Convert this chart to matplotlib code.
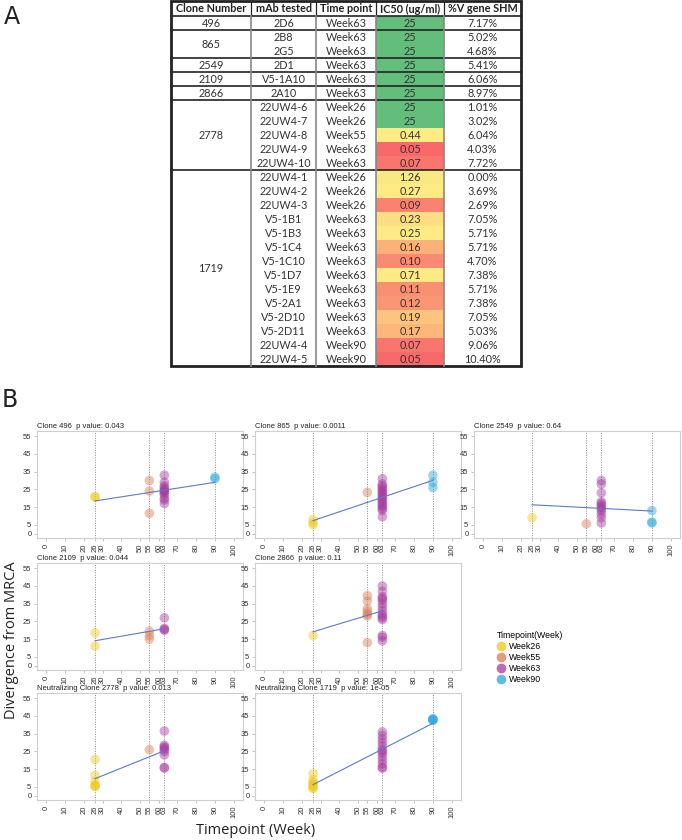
import numpy as np
import matplotlib
matplotlib.use("Agg")
import matplotlib.pyplot as plt
from matplotlib.patches import Rectangle
from matplotlib.lines import Line2D

# ---- panel A table data ----
clone_numbers = ["496", "865", "2549", "2109", "2866", "2778", "1719"]
clone_sizes = [1, 2, 1, 1, 1, 5, 14]
mabs = ["2D6", "2B8", "2G5", "2D1", "V5-1A10", "2A10",
        "22UW4-6", "22UW4-7", "22UW4-8", "22UW4-9", "22UW4-10",
        "22UW4-1", "22UW4-2", "22UW4-3", "V5-1B1", "V5-1B3", "V5-1C4",
        "V5-1C10", "V5-1D7", "V5-1E9", "V5-2A1", "V5-2D10", "V5-2D11",
        "22UW4-4", "22UW4-5"]
time_points = ["Week63"] * 6 + ["Week26", "Week26", "Week55", "Week63", "Week63",
               "Week26", "Week26", "Week26"] + ["Week63"] * 9 + ["Week90", "Week90"]
ic50 = ["25", "25", "25", "25", "25", "25", "25", "25", "0.44", "0.05", "0.07",
        "1.26", "0.27", "0.09", "0.23", "0.25", "0.16", "0.10", "0.71", "0.11",
        "0.12", "0.19", "0.17", "0.07", "0.05"]
shm = ["7.17%", "5.02%", "4.68%", "5.41%", "6.06%", "8.97%", "1.01%", "3.02%",
       "6.04%", "4.03%", "7.72%", "0.00%", "3.69%", "2.69%", "7.05%", "5.71%",
       "5.71%", "4.70%", "7.38%", "5.71%", "7.38%", "7.05%", "5.03%", "9.06%",
       "10.40%"]
headers = ["Clone Number", "mAb tested", "Time point", "IC50 (ug/ml)", "%V gene SHM"]

# ---- panel B data: divergence from MRCA per timepoint (week) ----
week_labels = ["Week26", "Week55", "Week63", "Week90"]
weeks = [26, 55, 63, 90]
week_colors = ["#EDC816", "#DB7B50", "#A63AA0", "#2BA6DB"]

clone_496 = {26: [21, 20.5], 55: [30, 24, 11.5],
             63: [33, 29, 27, 26, 25, 24, 24, 23, 22, 20, 19, 17], 90: [31, 32]}
clone_865 = {26: [8, 6, 5], 55: [23.3],
             63: [31, 28, 27, 26, 25, 24, 23, 22, 21, 20, 19, 18, 17, 16, 15, 14, 13, 9.5],
             90: [33, 29, 26]}
clone_2549 = {26: [9], 55: [5.5],
              63: [30, 28, 23, 18, 17, 16, 15, 14, 13, 11, 9, 6], 90: [13, 6.5, 6]}
clone_2109 = {26: [18.5, 11], 55: [19.5, 17, 15], 63: [27, 21, 20.5, 20]}
clone_2866 = {26: [17], 55: [39.5, 36.5, 32, 30.5, 29, 28, 13],
              63: [45, 42, 39, 38, 37, 35, 33, 31, 29, 28, 27, 26, 17, 16, 14]}
clone_2778 = {26: [20.5, 11.5, 8, 6, 5.5, 5], 55: [26],
              63: [36.5, 28.5, 27.5, 27, 26, 25, 23, 16, 15.5]}
clone_1719 = {26: [12.5, 9, 7.5, 6.5, 5.5, 4.5, 4],
              63: [36, 34, 32, 30, 28, 26, 25, 24, 22, 20, 18, 16, 15.5],
              90: [43.5, 43, 42.5, 43]}

panels = [
    ("Clone 496  p value: 0.043", clone_496),
    ("Clone 865  p value: 0.0011", clone_865),
    ("Clone 2549  p value: 0.64", clone_2549),
    ("Clone 2109  p value: 0.044", clone_2109),
    ("Clone 2866  p value: 0.11", clone_2866),
    None,
    ("Neutralizing Clone 2778  p value: 0.013", clone_2778),
    ("Neutralizing Clone 1719  p value: 1e-05", clone_1719),
]
xticks = [0, 10, 20, 26, 30, 40, 50, 55, 60, 63, 70, 80, 90, 100]
yticks = [0, 5, 15, 25, 35, 45, 55]

W, H = 682, 840
fig = plt.figure(figsize=(W / 100, H / 100), dpi=100)


def ic50_color(v):
    # excel style 3-colour scale: min red, median yellow, max green
    red = np.array([0xF8, 0x69, 0x6B]) / 255
    yel = np.array([0xFF, 0xEB, 0x84]) / 255
    grn = np.array([0x63, 0xBE, 0x7B]) / 255
    vals = [float(s) for s in ic50]
    lo, mid, hi = min(vals), np.median(vals), max(vals)
    if v <= mid:
        t = (v - lo) / (mid - lo)
        return red + (yel - red) * t
    t = (v - mid) / (hi - mid)
    return yel + (grn - yel) * t


# ---- table (panel A) drawn in pixel coordinates ----
ax_t = fig.add_axes([0, 0, 1, 1])
ax_t.set_xlim(0, W)
ax_t.set_ylim(H, 0)
ax_t.axis("off")

col_edges = [171, 251, 316, 376, 444, 521]
top, head_h, row_h = 1, 15, 14.0
body_top = top + head_h
n_rows = len(mabs)
bottom = body_top + n_rows * row_h
tfont = "Lato"
tsize = 7.8

for i, v in enumerate(ic50):
    y0 = body_top + i * row_h
    ax_t.add_patch(Rectangle((col_edges[3], y0), col_edges[4] - col_edges[3], row_h,
                             facecolor=ic50_color(float(v)), edgecolor="none"))

for j, h in enumerate(headers):
    ax_t.text((col_edges[j] + col_edges[j + 1]) / 2, top + head_h / 2 + 0.5, h,
              ha="center", va="center", fontsize=tsize, fontweight="bold",
              family=tfont, color="#222")

for i in range(n_rows):
    yc = body_top + (i + 0.5) * row_h + 0.5
    for j, col in enumerate([mabs, time_points, ic50, shm]):
        ax_t.text((col_edges[j + 1] + col_edges[j + 2]) / 2, yc, col[i],
                  ha="center", va="center", fontsize=tsize, family=tfont, color="#333")

start = 0
for cn, sz in zip(clone_numbers, clone_sizes):
    yc = body_top + (start + sz / 2) * row_h + 0.5
    ax_t.text((col_edges[0] + col_edges[1]) / 2, yc, cn, ha="center", va="center",
              fontsize=tsize, family=tfont, color="#333")
    start += sz
    if start < n_rows:
        yl = body_top + start * row_h
        ax_t.plot([col_edges[0], col_edges[-1]], [yl, yl], color="#222", lw=1.2)

ax_t.plot([col_edges[0], col_edges[-1]], [body_top, body_top], color="#222", lw=1.2)
for x in col_edges[1:-1]:
    ax_t.plot([x, x], [top, body_top], color="#222", lw=0.9)
    ax_t.plot([x, x], [body_top, bottom], color="#888", lw=1.2)
ax_t.add_patch(Rectangle((col_edges[0], top), col_edges[-1] - col_edges[0], bottom - top,
                         fill=False, edgecolor="#222", lw=2))

ax_t.text(4, 17, "A", fontsize=17, va="center", ha="left", family="DejaVu Sans", color="#222")
ax_t.text(2, 400, "B", fontsize=17, va="center", ha="left", family="DejaVu Sans", color="#222")
ax_t.text(12, 640, "Divergence from MRCA", rotation=90, ha="center", va="center",
          fontsize=10.5, family="Open Sans", color="#222")
ax_t.text(256, 831, "Timepoint (Week)", ha="center", va="center",
          fontsize=10.5, family="Open Sans", color="#222")

# ---- scatter panels (panel B) ----
col_lefts = [37, 255, 474]
row_tops = [431, 563, 693]
pw, ph = 206, 107
pfont = "Liberation Sans"

for k, panel in enumerate(panels):
    if panel is None:
        continue
    title, data = panel
    r, c = divmod(k, 3)
    ax = fig.add_axes([col_lefts[c] / W, 1 - (row_tops[r] + ph) / H, pw / W, ph / H])
    ax.set_xlim(-5, 105)
    ax.set_ylim(-2.5, 58)
    xs, ys = [], []
    for wk, vals in data.items():
        col = week_colors[weeks.index(wk)]
        ax.axvline(wk, color="#8a8a8a", ls=(0, (1, 1.5)), lw=0.7, zorder=1)
        ax.scatter([wk] * len(vals), vals, s=48, color=col, alpha=0.45,
                   edgecolors="none", zorder=2)
        xs += [wk] * len(vals)
        ys += vals
    slope, icpt = np.polyfit(xs, ys, 1)
    xl = np.array([min(data), max(data)])
    ax.plot(xl, icpt + slope * xl, color="#5B7BC8", lw=0.8, zorder=3)
    ax.set_xticks(xticks)
    ax.set_xticklabels([str(t) for t in xticks], rotation=90, fontsize=5.5, family=pfont)
    ax.set_yticks(yticks)
    ax.set_yticklabels([str(t) for t in yticks], fontsize=5.5, family=pfont)
    ax.tick_params(length=2, width=0.5, color="#aaaaaa", pad=2, labelcolor="#333")
    for s in ax.spines.values():
        s.set_color("#cfcfcf")
        s.set_linewidth(0.8)
    ax.set_title(title, loc="left", fontsize=5.5, family=pfont, pad=2.5, color="#222")

# legend
handles = [Line2D([], [], marker="o", ls="none", markersize=7, color=c, alpha=0.75,
                  markeredgewidth=0) for c in week_colors]
fig.legend(handles, week_labels, title="Timepoint(Week)", loc="upper left",
           bbox_to_anchor=(492 / W, 1 - 627 / H), frameon=False,
           prop={"family": pfont, "size": 6.3}, title_fontproperties={"family": pfont, "size": 6.3},
           handletextpad=0.4, labelspacing=0.22, borderpad=0, handlelength=1.0,
           alignment="left")

fig.savefig("out.png", dpi=100)
